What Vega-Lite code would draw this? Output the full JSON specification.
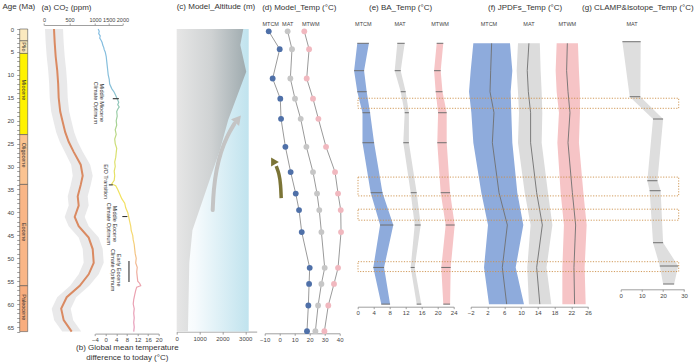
{
  "$schema": "https://vega.github.io/schema/vega-lite/v6.json",
  "padding": {"left": 1.7, "top": 3, "right": 0, "bottom": 0},
  "bounds": "flush",
  "spacing": 0,
  "resolve": {"scale": {"x": "independent", "y": "independent", "color": "independent"}},
  "config": {
    "view": {"stroke": null},
    "font": "Liberation Sans",
    "axis": {"labelFont": "Liberation Sans", "labelFontSize": 6, "labelColor": "#444", "domainColor": "#888", "tickColor": "#888", "domainWidth": 0.8, "tickWidth": 0.8, "tickSize": 2, "labelPadding": 1.2, "grid": false, "labelOverlap": false, "labelFlush": false, "format": "d", "titleFont": "Liberation Sans", "titleFontWeight": "normal", "titleFontSize": 8, "titleColor": "#333"},
    "title": {"font": "Liberation Sans", "fontSize": 8, "fontWeight": "normal", "color": "#333", "anchor": "start", "frame": "group", "baseline": "bottom"},
    "text": {"font": "Liberation Sans"}
  },
  "datasets": {
    "epochs": [
      {"epoch": "Pleistocene", "start": 0, "end": 2.58, "mid": 1.3, "label": ""},
      {"epoch": "Pliocene", "start": 2.58, "end": 5.33, "mid": 3.9, "label": "Plio"},
      {"epoch": "Miocene", "start": 5.33, "end": 23.03, "mid": 13.3, "label": "Miocene"},
      {"epoch": "Oligocene", "start": 23.03, "end": 33.9, "mid": 27.5, "label": "Oligocene"},
      {"epoch": "Eocene", "start": 33.9, "end": 56, "mid": 44.3, "label": "Eocene"},
      {"epoch": "Paleocene", "start": 56, "end": 66, "mid": 60.7, "label": "Paleocene"}
    ],
    "co2": [
      {"age": 0, "co2": 196, "lo": 20, "hi": 373},
      {"age": 3, "co2": 210, "lo": 33, "hi": 386},
      {"age": 6, "co2": 229, "lo": 53, "hi": 406},
      {"age": 9, "co2": 259, "lo": 82, "hi": 435},
      {"age": 12, "co2": 278, "lo": 102, "hi": 455},
      {"age": 15, "co2": 288, "lo": 112, "hi": 465},
      {"age": 18, "co2": 318, "lo": 141, "hi": 494},
      {"age": 20, "co2": 361, "lo": 184, "hi": 537},
      {"age": 22.5, "co2": 416, "lo": 239, "hi": 592},
      {"age": 24.6, "co2": 484, "lo": 308, "hi": 661},
      {"age": 26.8, "co2": 582, "lo": 406, "hi": 759},
      {"age": 29.6, "co2": 720, "lo": 533, "hi": 906},
      {"age": 32, "co2": 759, "lo": 563, "hi": 955},
      {"age": 34, "co2": 720, "lo": 524, "hi": 916},
      {"age": 36.5, "co2": 661, "lo": 465, "hi": 857},
      {"age": 38.5, "co2": 680, "lo": 484, "hi": 876},
      {"age": 41, "co2": 602, "lo": 406, "hi": 798},
      {"age": 43, "co2": 680, "lo": 484, "hi": 876},
      {"age": 45.5, "co2": 876, "lo": 680, "hi": 1135},
      {"age": 48, "co2": 955, "lo": 759, "hi": 1281},
      {"age": 51, "co2": 975, "lo": 778, "hi": 1318},
      {"age": 53.5, "co2": 876, "lo": 680, "hi": 1135},
      {"age": 56, "co2": 700, "lo": 514, "hi": 886},
      {"age": 58.5, "co2": 445, "lo": 259, "hi": 631},
      {"age": 61, "co2": 337, "lo": 151, "hi": 524},
      {"age": 63.5, "co2": 386, "lo": 200, "hi": 573},
      {"age": 66, "co2": 543, "lo": 357, "hi": 729}
    ],
    "temp": [
      {"age": 0, "t": -2.79}, {"age": 0.5, "t": -2.41}, {"age": 1, "t": -2.6}, {"age": 1.5, "t": -2.03}, {"age": 2, "t": -2.22},
      {"age": 2.5, "t": -1.66}, {"age": 3, "t": -1.28}, {"age": 3.5, "t": -1.09}, {"age": 4, "t": -0.72}, {"age": 4.5, "t": -0.53},
      {"age": 5, "t": -0.15}, {"age": 6, "t": 0.23}, {"age": 7, "t": 0.41}, {"age": 8, "t": 0.6}, {"age": 9, "t": 0.79},
      {"age": 10, "t": 0.98}, {"age": 11, "t": 1.36}, {"age": 12, "t": 1.54}, {"age": 13, "t": 2.3}, {"age": 13.8, "t": 3.24},
      {"age": 14.5, "t": 3.81}, {"age": 15, "t": 4.18}, {"age": 15.5, "t": 4.56}, {"age": 16, "t": 4.94}, {"age": 16.5, "t": 4.56},
      {"age": 17, "t": 5.12}, {"age": 17.5, "t": 4.56}, {"age": 18, "t": 4.18}, {"age": 19, "t": 4.37}, {"age": 20, "t": 3.99},
      {"age": 21, "t": 4.18}, {"age": 22, "t": 3.62}, {"age": 23, "t": 3.99}, {"age": 24, "t": 3.43}, {"age": 25, "t": 3.62},
      {"age": 26, "t": 4.18}, {"age": 27, "t": 3.99}, {"age": 28, "t": 3.81}, {"age": 29, "t": 3.43}, {"age": 30, "t": 3.62},
      {"age": 31, "t": 3.24}, {"age": 32, "t": 3.43}, {"age": 33, "t": 3.24}, {"age": 33.8, "t": 2.3}, {"age": 34.2, "t": 3.81},
      {"age": 35, "t": 4.56}, {"age": 36, "t": 5.31}, {"age": 37, "t": 6.07}, {"age": 38, "t": 7.2}, {"age": 39, "t": 7.57},
      {"age": 40, "t": 8.33}, {"age": 41, "t": 8.7}, {"age": 42, "t": 9.08}, {"age": 43, "t": 9.46}, {"age": 44, "t": 9.65},
      {"age": 45, "t": 10.21}, {"age": 46, "t": 10.4}, {"age": 47, "t": 10.78}, {"age": 48, "t": 10.96}, {"age": 49, "t": 11.15},
      {"age": 50, "t": 11.53}, {"age": 51, "t": 11.34}, {"age": 52, "t": 11.91}, {"age": 53, "t": 11.72}, {"age": 54, "t": 11.91},
      {"age": 55, "t": 12.1}, {"age": 55.5, "t": 12.85}, {"age": 56, "t": 13.23}, {"age": 56.3, "t": 11.72}, {"age": 57, "t": 11.34},
      {"age": 58, "t": 10.96}, {"age": 59, "t": 10.59}, {"age": 60, "t": 10.4}, {"age": 61, "t": 10.78}, {"age": 62, "t": 10.59},
      {"age": 63, "t": 10.78}, {"age": 64, "t": 10.59}, {"age": 65, "t": 10.78}, {"age": 66, "t": 10.59}
    ],
    "notes": [
      {"text": "Middle Miocene\nClimate Optimum", "t": -1.3, "age": 16.1},
      {"text": "E/O Transition", "t": 0.0, "age": 33.3},
      {"text": "Middle Eocene\nClimate Optimum", "t": 3.5, "age": 42.5},
      {"text": "Early Eocene\nClimate Optimum", "t": 5.0, "age": 52.6}
    ],
    "dashes": [
      {"t1": 2.7, "t2": 5.0, "a1": 15.2, "a2": 15.2},
      {"t1": 1.2, "t2": 2.7, "a1": 34.0, "a2": 34.0},
      {"t1": 6.3, "t2": 8.2, "a1": 40.9, "a2": 40.9},
      {"t1": 8.8, "t2": 8.8, "a1": 50.6, "a2": 55.2}
    ],
    "altitude": [
      {"age": 0, "alt": 2913}, {"age": 3.5, "alt": 2783}, {"age": 9.3, "alt": 3043}, {"age": 19.8, "alt": 2256},
      {"age": 26.4, "alt": 1890}, {"age": 37.3, "alt": 1142}, {"age": 43.9, "alt": 689}, {"age": 51, "alt": 551}, {"age": 66, "alt": 492}
    ],
    "greyArrow": [
      {"age": 39.5, "alt": 1575}, {"age": 35.1, "alt": 1614}, {"age": 30.7, "alt": 1732}, {"age": 26.8, "alt": 1929}, {"age": 23.3, "alt": 2205}, {"age": 20.7, "alt": 2520}
    ],
    "greyHead": [{"age": 19.9, "alt": 2640}],
    "oliveArrow": [
      {"age": 36.9, "t": 1.0}, {"age": 34.0, "t": 0.67}, {"age": 31.6, "t": -0.33}, {"age": 29.9, "t": -2.33}
    ],
    "oliveHead": [{"age": 29.0, "t": -4.0}],
    "model": [
      {"age": 0.5, "var": "MTCM", "t": -7.3}, {"age": 4.4, "var": "MTCM", "t": 0}, {"age": 10.8, "var": "MTCM", "t": -4.7}, {"age": 15.2, "var": "MTCM", "t": 0.4},
      {"age": 19.6, "var": "MTCM", "t": 0.9}, {"age": 25.7, "var": "MTCM", "t": 3.8}, {"age": 31.2, "var": "MTCM", "t": 7.3}, {"age": 35.9, "var": "MTCM", "t": 10.7},
      {"age": 39.5, "var": "MTCM", "t": 12.9}, {"age": 44.3, "var": "MTCM", "t": 14.7}, {"age": 52.1, "var": "MTCM", "t": 20}, {"age": 55.6, "var": "MTCM", "t": 19.6},
      {"age": 60.3, "var": "MTCM", "t": 19.1}, {"age": 65.9, "var": "MTCM", "t": 18.2},
      {"age": 0.5, "var": "MAT", "t": 5.3}, {"age": 4.4, "var": "MAT", "t": 8.2}, {"age": 10.8, "var": "MAT", "t": 7.1}, {"age": 15.2, "var": "MAT", "t": 10.2},
      {"age": 19.6, "var": "MAT", "t": 14}, {"age": 25.7, "var": "MAT", "t": 17.8}, {"age": 31.2, "var": "MAT", "t": 22.2}, {"age": 35.9, "var": "MAT", "t": 24.9},
      {"age": 39.5, "var": "MAT", "t": 26.4}, {"age": 44.3, "var": "MAT", "t": 27.8}, {"age": 52.1, "var": "MAT", "t": 30}, {"age": 55.6, "var": "MAT", "t": 27.8},
      {"age": 60.3, "var": "MAT", "t": 25.6}, {"age": 65.9, "var": "MAT", "t": 23.8},
      {"age": 0.5, "var": "MTWM", "t": 16.4}, {"age": 4.4, "var": "MTWM", "t": 19.6}, {"age": 10.8, "var": "MTWM", "t": 18}, {"age": 15.2, "var": "MTWM", "t": 22.2},
      {"age": 19.6, "var": "MTWM", "t": 25.8}, {"age": 25.7, "var": "MTWM", "t": 30.9}, {"age": 31.2, "var": "MTWM", "t": 36.9}, {"age": 35.9, "var": "MTWM", "t": 38.9},
      {"age": 39.5, "var": "MTWM", "t": 40.7}, {"age": 44.3, "var": "MTWM", "t": 40.9}, {"age": 52.1, "var": "MTWM", "t": 38.9}, {"age": 55.6, "var": "MTWM", "t": 36.2},
      {"age": 60.3, "var": "MTWM", "t": 32.4}, {"age": 65.9, "var": "MTWM", "t": 29.8}
    ],
    "dlabels": [{"label": "MTCM", "t": -6}, {"label": "MAT", "t": 5.3}, {"label": "MTWM", "t": 20.7}],
    "ba": [
      {"age": 3.12, "var": "MTCM", "lo": -0.1, "hi": 2.8}, {"age": 9.09, "var": "MTCM", "lo": -0.9, "hi": 1.6}, {"age": 13.68, "var": "MTCM", "lo": -0.1, "hi": 2.25},
      {"age": 18.26, "var": "MTCM", "lo": 1.2, "hi": 3.1}, {"age": 24.8, "var": "MTCM", "lo": 1.2, "hi": 4.1}, {"age": 35.7, "var": "MTCM", "lo": 3.25, "hi": 6.2},
      {"age": 42.75, "var": "MTCM", "lo": 5.6, "hi": 8.9}, {"age": 52.0, "var": "MTCM", "lo": 3.9, "hi": 6.6}, {"age": 60.0, "var": "MTCM", "lo": 5.9, "hi": 8.1},
      {"age": 3.12, "var": "MAT", "lo": 9.9, "hi": 11.75}, {"age": 9.09, "var": "MAT", "lo": 9.25, "hi": 10.75}, {"age": 13.68, "var": "MAT", "lo": 10.75, "hi": 12},
      {"age": 18.26, "var": "MAT", "lo": 11.75, "hi": 12.8}, {"age": 24.8, "var": "MAT", "lo": 11.4, "hi": 12.8}, {"age": 35.7, "var": "MAT", "lo": 13.25, "hi": 14.75},
      {"age": 42.75, "var": "MAT", "lo": 14.25, "hi": 15.75}, {"age": 52.0, "var": "MAT", "lo": 13.25, "hi": 14.25}, {"age": 60.0, "var": "MAT", "lo": 14.75, "hi": 15.9},
      {"age": 3.12, "var": "MTWM", "lo": 19.75, "hi": 21.4}, {"age": 9.09, "var": "MTWM", "lo": 19.1, "hi": 20.75}, {"age": 13.68, "var": "MTWM", "lo": 19.5, "hi": 21.2},
      {"age": 18.26, "var": "MTWM", "lo": 20.1, "hi": 22.25}, {"age": 24.8, "var": "MTWM", "lo": 19.9, "hi": 22.25}, {"age": 35.7, "var": "MTWM", "lo": 20.75, "hi": 23.1},
      {"age": 42.75, "var": "MTWM", "lo": 22, "hi": 24.25}, {"age": 52.0, "var": "MTWM", "lo": 20.9, "hi": 23.25}, {"age": 60.0, "var": "MTWM", "lo": 21.4, "hi": 23.1}
    ],
    "elabels": [{"label": "MTCM", "t": 1.4}, {"label": "MAT", "t": 10.6}, {"label": "MTWM", "t": 20.6}],
    "jpdf": [
      {"age": 3.12, "var": "MTCM", "lo": -1.37, "c": 3.0, "hi": 7.38}, {"age": 9.09, "var": "MTCM", "lo": -2.0, "c": 2.77, "hi": 7.94}, {"age": 13.68, "var": "MTCM", "lo": -2.4, "c": 2.61, "hi": 7.54},
      {"age": 18.26, "var": "MTCM", "lo": -1.84, "c": 3.56, "hi": 7.7}, {"age": 24.8, "var": "MTCM", "lo": -1.37, "c": 3.17, "hi": 7.94}, {"age": 35.7, "var": "MTCM", "lo": 0.54, "c": 4.76, "hi": 9.13},
      {"age": 42.75, "var": "MTCM", "lo": 2.13, "c": 6.75, "hi": 10.56}, {"age": 52.0, "var": "MTCM", "lo": 1.18, "c": 5.55, "hi": 8.74}, {"age": 60.0, "var": "MTCM", "lo": 2.37, "c": 6.59, "hi": 10.72},
      {"age": 3.12, "var": "MAT", "lo": 9.29, "c": 11.9, "hi": 14.5}, {"age": 9.09, "var": "MAT", "lo": 8.97, "c": 11.5, "hi": 14.7}, {"age": 13.68, "var": "MAT", "lo": 9.29, "c": 11.76, "hi": 14.94},
      {"age": 18.26, "var": "MAT", "lo": 9.53, "c": 12.3, "hi": 15.1}, {"age": 24.8, "var": "MAT", "lo": 9.29, "c": 12.3, "hi": 14.94}, {"age": 35.7, "var": "MAT", "lo": 10.9, "c": 13.75, "hi": 16.45},
      {"age": 42.75, "var": "MAT", "lo": 12.3, "c": 15.1, "hi": 17.5}, {"age": 52.0, "var": "MAT", "lo": 11.5, "c": 13.75, "hi": 16.1}, {"age": 60.0, "var": "MAT", "lo": 11.9, "c": 14.5, "hi": 17.25},
      {"age": 3.12, "var": "MTWM", "lo": 18.52, "c": 21.07, "hi": 23.6}, {"age": 9.09, "var": "MTWM", "lo": 18.28, "c": 20.9, "hi": 23.84}, {"age": 13.68, "var": "MTWM", "lo": 18.52, "c": 21.23, "hi": 24.08},
      {"age": 18.26, "var": "MTWM", "lo": 19.07, "c": 21.7, "hi": 24.08}, {"age": 24.8, "var": "MTWM", "lo": 18.69, "c": 21.23, "hi": 23.84}, {"age": 35.7, "var": "MTWM", "lo": 19.47, "c": 22.27, "hi": 24.9},
      {"age": 42.75, "var": "MTWM", "lo": 20.26, "c": 23.05, "hi": 25.68}, {"age": 52.0, "var": "MTWM", "lo": 19.88, "c": 22.65, "hi": 25.2}, {"age": 60.0, "var": "MTWM", "lo": 19.88, "c": 22.8, "hi": 25.45}
    ],
    "flabels": [{"label": "MTCM", "t": 2.36}, {"label": "MAT", "t": 11.9}, {"label": "MTWM", "t": 21.07}],
    "clamp": [
      {"age": 2.77, "lo": 0.8, "hi": 9.47}, {"age": 14.77, "lo": 4.26, "hi": 9.3}, {"age": 19.63, "lo": 15.3, "hi": 20.07},
      {"age": 33.09, "lo": 12.6, "hi": 17.4}, {"age": 35.27, "lo": 13.7, "hi": 18.9}, {"age": 46.61, "lo": 15.3, "hi": 20.07},
      {"age": 51.69, "lo": 18.5, "hi": 27.2}, {"age": 55.62, "lo": 20.07, "hi": 25.3}
    ],
    "glabels": [{"label": "MAT", "t": 5.35}],
    "boxes": [
      {"a1": 15.1, "a2": 17.3, "x1": -124.3, "x2": 27.45},
      {"a1": 32.3, "a2": 36.4, "x1": -124.3, "x2": 27.45},
      {"a1": 39.3, "a2": 41.7, "x1": -124.3, "x2": 27.45},
      {"a1": 50.75, "a2": 52.9, "x1": -124.3, "x2": 27.45}
    ]
  },
  "hconcat": [
    {
      "width": 24, "height": 302.6,
      "title": {"text": "Age (Ma)", "dx": -17.3, "offset": 14.8},
      "data": {"name": "epochs"},
      "layer": [
        {
          "mark": {"type": "rect", "stroke": "#555", "strokeWidth": 0.6},
          "encoding": {
            "x": {"datum": 0, "type": "quantitative", "scale": {"domain": [0, 1], "range": [0, 8]}, "axis": null},
            "x2": {"datum": 1},
            "y": {"field": "start", "type": "quantitative", "scale": {"domain": [0, 66], "reverse": true, "nice": false, "zero": false},
                  "axis": {"orient": "left", "title": null, "domain": false, "tickSize": 3, "labelPadding": 3, "tickCount": 200, "format": "d",
                           "values": [0,1,2,3,4,5,6,7,8,9,10,11,12,13,14,15,16,17,18,19,20,21,22,23,24,25,26,27,28,29,30,31,32,33,34,35,36,37,38,39,40,41,42,43,44,45,46,47,48,49,50,51,52,53,54,55,56,57,58,59,60,61,62,63,64,65,66],
                           "labelExpr": "datum.value % 5 == 0 ? datum.label : ''"}},
            "y2": {"field": "end"},
            "fill": {"field": "epoch", "type": "nominal", "legend": null,
                     "scale": {"domain": ["Pleistocene", "Pliocene", "Miocene", "Oligocene", "Eocene", "Paleocene"],
                               "range": ["#fbe9bf", "#fbe6b5", "#fff200", "#fbc391", "#f9b687", "#f8ad7e"]}}
          }
        },
        {
          "transform": [{"filter": "datum.label != ''"}],
          "mark": {"type": "text", "angle": 90, "fontSize": 5.5, "color": "#333", "align": "center", "baseline": "middle"},
          "encoding": {
            "x": {"datum": 0.5, "type": "quantitative"},
            "y": {"field": "mid", "type": "quantitative"},
            "text": {"field": "label"}
          }
        }
      ]
    },
    {
      "width": 133, "height": 302.6,
      "title": {"text": "(a) CO₂ (ppm)", "dx": -2.3, "offset": 4.8},
      "resolve": {"scale": {"x": "independent"}, "axis": {"x": "independent"}},
      "layer": [
        {
          "data": {"name": "co2"},
          "layer": [
            {
              "mark": {"type": "area", "orient": "horizontal", "color": "#e9e9ea", "opacity": 1},
              "encoding": {
                "y": {"field": "age", "type": "quantitative", "scale": {"domain": [0, 66], "reverse": true, "nice": false, "zero": false}, "axis": null},
                "x": {"field": "lo", "type": "quantitative", "scale": {"domain": [0, 1000, 2000], "range": [0.3, 51.3, 78.7]},
                      "axis": {"orient": "top", "title": null, "offset": 4, "values": [0, 500, 1000, 1500, 2000], "tickCount": 50, "format": "d", "labelFontSize": 5.5, "labelPadding": 0.8}},
                "x2": {"field": "hi"}
              }
            },
            {
              "mark": {"type": "line", "color": "#da8a62", "strokeWidth": 2},
              "encoding": {
                "y": {"field": "age", "type": "quantitative"},
                "x": {"field": "co2", "type": "quantitative"},
                "order": {"field": "age"}
              }
            }
          ]
        },
        {
          "layer": [
            {
              "data": {"name": "temp"},
              "mark": {"type": "line", "strokeWidth": 1.2,
                       "stroke": {"gradient": "linear", "x1": 0, "y1": 0, "x2": 0, "y2": 1,
                                  "stops": [{"offset": 0, "color": "#84bde2"}, {"offset": 0.2, "color": "#88c0d8"}, {"offset": 0.3, "color": "#9fd09a"},
                                            {"offset": 0.4, "color": "#d6e070"}, {"offset": 0.55, "color": "#f2e25e"}, {"offset": 0.68, "color": "#f5d870"},
                                            {"offset": 0.76, "color": "#f2bd88"}, {"offset": 0.84, "color": "#eca3ad"}, {"offset": 1, "color": "#e69bbb"}]}},
              "encoding": {
                "y": {"field": "age", "type": "quantitative", "scale": {"domain": [0, 66], "reverse": true, "nice": false, "zero": false}, "axis": null},
                "x": {"field": "t", "type": "quantitative", "scale": {"domain": [-4, 20], "range": [51.3, 115]},
                      "axis": {"orient": "bottom", "offset": 2, "values": [-4, 0, 4, 8, 12, 16, 20], "tickCount": 50, "format": "d", "labelPadding": 0.6,
                               "title": ["(b) Global mean temperature", "difference to today (°C)"], "titlePadding": 1, "titleLineHeight": 10}},
                "order": {"field": "age"}
              }
            },
            {
              "data": {"name": "notes"},
              "mark": {"type": "text", "angle": 90, "fontSize": 5.5, "lineBreak": "\n", "lineHeight": 6, "align": "center", "baseline": "middle", "color": "#333"},
              "encoding": {
                "y": {"field": "age", "type": "quantitative"},
                "x": {"field": "t", "type": "quantitative"},
                "text": {"field": "text"}
              }
            },
            {
              "data": {"name": "dashes"},
              "mark": {"type": "rule", "color": "#333", "strokeWidth": 1.1},
              "encoding": {
                "y": {"field": "a1", "type": "quantitative"},
                "y2": {"field": "a2"},
                "x": {"field": "t1", "type": "quantitative"},
                "x2": {"field": "t2"}
              }
            }
          ]
        }
      ]
    },
    {
      "width": 88, "height": 302.6,
      "title": {"text": "(c) Model_Altitude (m)", "dx": 0, "offset": 17.8},
      "layer": [
        {
          "data": {"values": [{}]},
          "mark": {"type": "rect", "fill": {"gradient": "linear", "x1": 0, "y1": 0, "x2": 1, "y2": 0,
                                            "stops": [{"offset": 0, "color": "#ffffff"}, {"offset": 0.25, "color": "#f7fbfd"}, {"offset": 1, "color": "#c0e3ee"}]}},
          "encoding": {
            "x": {"datum": 0, "type": "quantitative", "scale": {"domain": [0, 3150], "range": [0, 80]},
                  "axis": {"values": [0, 1000, 2000, 3000], "tickCount": 50, "format": "d", "title": null, "labelPadding": 1.5, "tickSize": 2.5}},
            "x2": {"datum": 3150},
            "y": {"datum": 0, "type": "quantitative", "scale": {"domain": [0, 66], "reverse": true, "nice": false, "zero": false}, "axis": null},
            "y2": {"datum": 66}
          }
        },
        {
          "data": {"name": "altitude"},
          "mark": {"type": "area", "orient": "horizontal",
                   "fill": {"gradient": "linear", "x1": 0, "y1": 0, "x2": 1, "y2": 0,
                            "stops": [{"offset": 0, "color": "#e6e6e6"}, {"offset": 0.5, "color": "#cfd2d3"}, {"offset": 1, "color": "#9fabaf"}]}},
          "encoding": {
            "y": {"field": "age", "type": "quantitative"},
            "x": {"field": "alt", "type": "quantitative"}
          }
        },
        {
          "data": {"name": "greyArrow"},
          "mark": {"type": "line", "color": "#c4c4c4", "strokeWidth": 4, "interpolate": "basis", "strokeCap": "round"},
          "encoding": {
            "y": {"field": "age", "type": "quantitative"},
            "x": {"field": "alt", "type": "quantitative"},
            "order": {"field": "age", "sort": "descending"}
          }
        },
        {
          "data": {"name": "greyHead"},
          "mark": {"type": "point", "shape": "triangle", "filled": true, "size": 110, "angle": 40, "color": "#c4c4c4", "opacity": 1},
          "encoding": {
            "y": {"field": "age", "type": "quantitative"},
            "x": {"field": "alt", "type": "quantitative"}
          }
        }
      ]
    },
    {
      "width": 93, "height": 302.6,
      "title": {"text": "(d) Model_Temp (°C)", "dx": -2.5, "offset": 10},
      "layer": [
        {
          "data": {"name": "model"},
          "mark": {"type": "line", "color": "#9a9a9a", "strokeWidth": 1},
          "encoding": {
            "y": {"field": "age", "type": "quantitative", "scale": {"domain": [0, 66], "reverse": true, "nice": false, "zero": false}, "axis": null},
            "x": {"field": "t", "type": "quantitative", "scale": {"domain": [-10, 40], "range": [0, 75]},
                  "axis": {"values": [-10, 0, 10, 20, 30, 40], "tickCount": 50, "format": "d", "title": null, "offset": 1.7}},
            "detail": {"field": "var"},
            "order": {"field": "age"}
          }
        },
        {
          "data": {"name": "model"},
          "mark": {"type": "point", "filled": true, "size": 34, "opacity": 1},
          "encoding": {
            "y": {"field": "age", "type": "quantitative"},
            "x": {"field": "t", "type": "quantitative"},
            "color": {"field": "var", "type": "nominal", "legend": null,
                      "scale": {"domain": ["MTCM", "MAT", "MTWM"], "range": ["#4f70a8", "#c6c6c6", "#f1b8bf"]}}
          }
        },
        {
          "data": {"name": "dlabels"},
          "mark": {"type": "text", "fontSize": 5.5, "color": "#444", "align": "center", "baseline": "middle"},
          "encoding": {
            "y": {"datum": -1.1, "type": "quantitative"},
            "x": {"field": "t", "type": "quantitative"},
            "text": {"field": "label"}
          }
        },
        {
          "data": {"name": "oliveArrow"},
          "mark": {"type": "line", "color": "#7b7436", "strokeWidth": 3.5, "interpolate": "basis"},
          "encoding": {
            "y": {"field": "age", "type": "quantitative"},
            "x": {"field": "t", "type": "quantitative"},
            "order": {"field": "age", "sort": "descending"}
          }
        },
        {
          "data": {"name": "oliveHead"},
          "mark": {"type": "point", "shape": "triangle", "filled": true, "size": 80, "angle": -30, "color": "#7b7436", "opacity": 1},
          "encoding": {
            "y": {"field": "age", "type": "quantitative"},
            "x": {"field": "t", "type": "quantitative"}
          }
        }
      ]
    },
    {
      "width": 113, "height": 277.7,
      "title": {"text": "(e) BA_Temp (°C)", "dx": 11.3, "offset": 10},
      "layer": [
        {
          "data": {"name": "ba"},
          "mark": {"type": "area", "orient": "horizontal", "opacity": 1},
          "encoding": {
            "y": {"field": "age", "type": "quantitative", "scale": {"domain": [0, 60.56], "reverse": true, "nice": false, "zero": false}, "axis": null},
            "x": {"field": "lo", "type": "quantitative", "scale": {"domain": [0, 24], "range": [0, 96]},
                  "axis": {"values": [0, 4, 8, 12, 16, 20, 24], "tickCount": 50, "format": "d", "title": null}},
            "x2": {"field": "hi"},
            "color": {"field": "var", "type": "nominal", "legend": null,
                      "scale": {"domain": ["MTCM", "MAT", "MTWM"], "range": ["#8eabdc", "#dcdcdc", "#f6c4c6"]}}
          }
        },
        {
          "data": {"name": "ba"},
          "mark": {"type": "rule", "color": "#6e6e6e", "strokeWidth": 1},
          "encoding": {
            "y": {"field": "age", "type": "quantitative"},
            "x": {"field": "lo", "type": "quantitative"},
            "x2": {"field": "hi"}
          }
        },
        {
          "data": {"name": "elabels"},
          "mark": {"type": "text", "fontSize": 5.5, "color": "#444", "align": "center", "baseline": "middle"},
          "encoding": {
            "y": {"datum": -1.1, "type": "quantitative"},
            "x": {"field": "t", "type": "quantitative"},
            "text": {"field": "label"}
          }
        }
      ]
    },
    {
      "width": 149.3, "height": 277.7,
      "title": {"text": "(f) JPDFs_Temp (°C)", "dx": 17.3, "offset": 10},
      "layer": [
        {
          "data": {"name": "jpdf"},
          "mark": {"type": "area", "orient": "horizontal", "opacity": 1},
          "encoding": {
            "y": {"field": "age", "type": "quantitative", "scale": {"domain": [0, 60.56], "reverse": true, "nice": false, "zero": false}, "axis": null},
            "x": {"field": "lo", "type": "quantitative", "scale": {"domain": [-2, 26], "range": [0, 117.3]},
                  "axis": {"values": [-2, 2, 6, 10, 14, 18, 22, 26], "tickCount": 50, "format": "d", "title": null}},
            "x2": {"field": "hi"},
            "color": {"field": "var", "type": "nominal", "legend": null,
                      "scale": {"domain": ["MTCM", "MAT", "MTWM"], "range": ["#8eabdc", "#dcdcdc", "#f6c4c6"]}}
          }
        },
        {
          "data": {"name": "jpdf"},
          "mark": {"type": "line", "color": "#6f6f6f", "strokeWidth": 0.9},
          "encoding": {
            "y": {"field": "age", "type": "quantitative"},
            "x": {"field": "c", "type": "quantitative"},
            "detail": {"field": "var"},
            "order": {"field": "age"}
          }
        },
        {
          "data": {"name": "flabels"},
          "mark": {"type": "text", "fontSize": 5.5, "color": "#444", "align": "center", "baseline": "middle"},
          "encoding": {
            "y": {"datum": -1.1, "type": "quantitative"},
            "x": {"field": "t", "type": "quantitative"},
            "text": {"field": "label"}
          }
        }
      ]
    },
    {
      "width": 80.7, "height": 260.3,
      "title": {"text": "(g) CLAMP&Isotope_Temp (°C)", "dx": -38.6, "offset": 10},
      "layer": [
        {
          "data": {"name": "clamp"},
          "mark": {"type": "area", "orient": "horizontal", "color": "#dedede", "opacity": 1},
          "encoding": {
            "y": {"field": "age", "type": "quantitative", "scale": {"domain": [0, 56.77], "reverse": true, "nice": false, "zero": false}, "axis": null},
            "x": {"field": "lo", "type": "quantitative", "scale": {"domain": [0, 30], "range": [0, 63.4]},
                  "axis": {"values": [0, 10, 20, 30], "tickCount": 50, "format": "d", "title": null}},
            "x2": {"field": "hi"}
          }
        },
        {
          "data": {"name": "clamp"},
          "mark": {"type": "rule", "color": "#6e6e6e", "strokeWidth": 1},
          "encoding": {
            "y": {"field": "age", "type": "quantitative"},
            "x": {"field": "lo", "type": "quantitative"},
            "x2": {"field": "hi"}
          }
        },
        {
          "data": {"name": "glabels"},
          "mark": {"type": "text", "fontSize": 5.5, "color": "#444", "align": "center", "baseline": "middle"},
          "encoding": {
            "y": {"datum": -1.1, "type": "quantitative"},
            "x": {"field": "t", "type": "quantitative"},
            "text": {"field": "label"}
          }
        },
        {
          "data": {"name": "boxes"},
          "mark": {"type": "rect", "fillOpacity": 0, "stroke": "#cc8f48", "strokeWidth": 0.9, "strokeDash": [1.2, 1.5]},
          "encoding": {
            "y": {"field": "a1", "type": "quantitative"},
            "y2": {"field": "a2"},
            "x": {"field": "x1", "type": "quantitative"},
            "x2": {"field": "x2"}
          }
        }
      ]
    }
  ]
}
